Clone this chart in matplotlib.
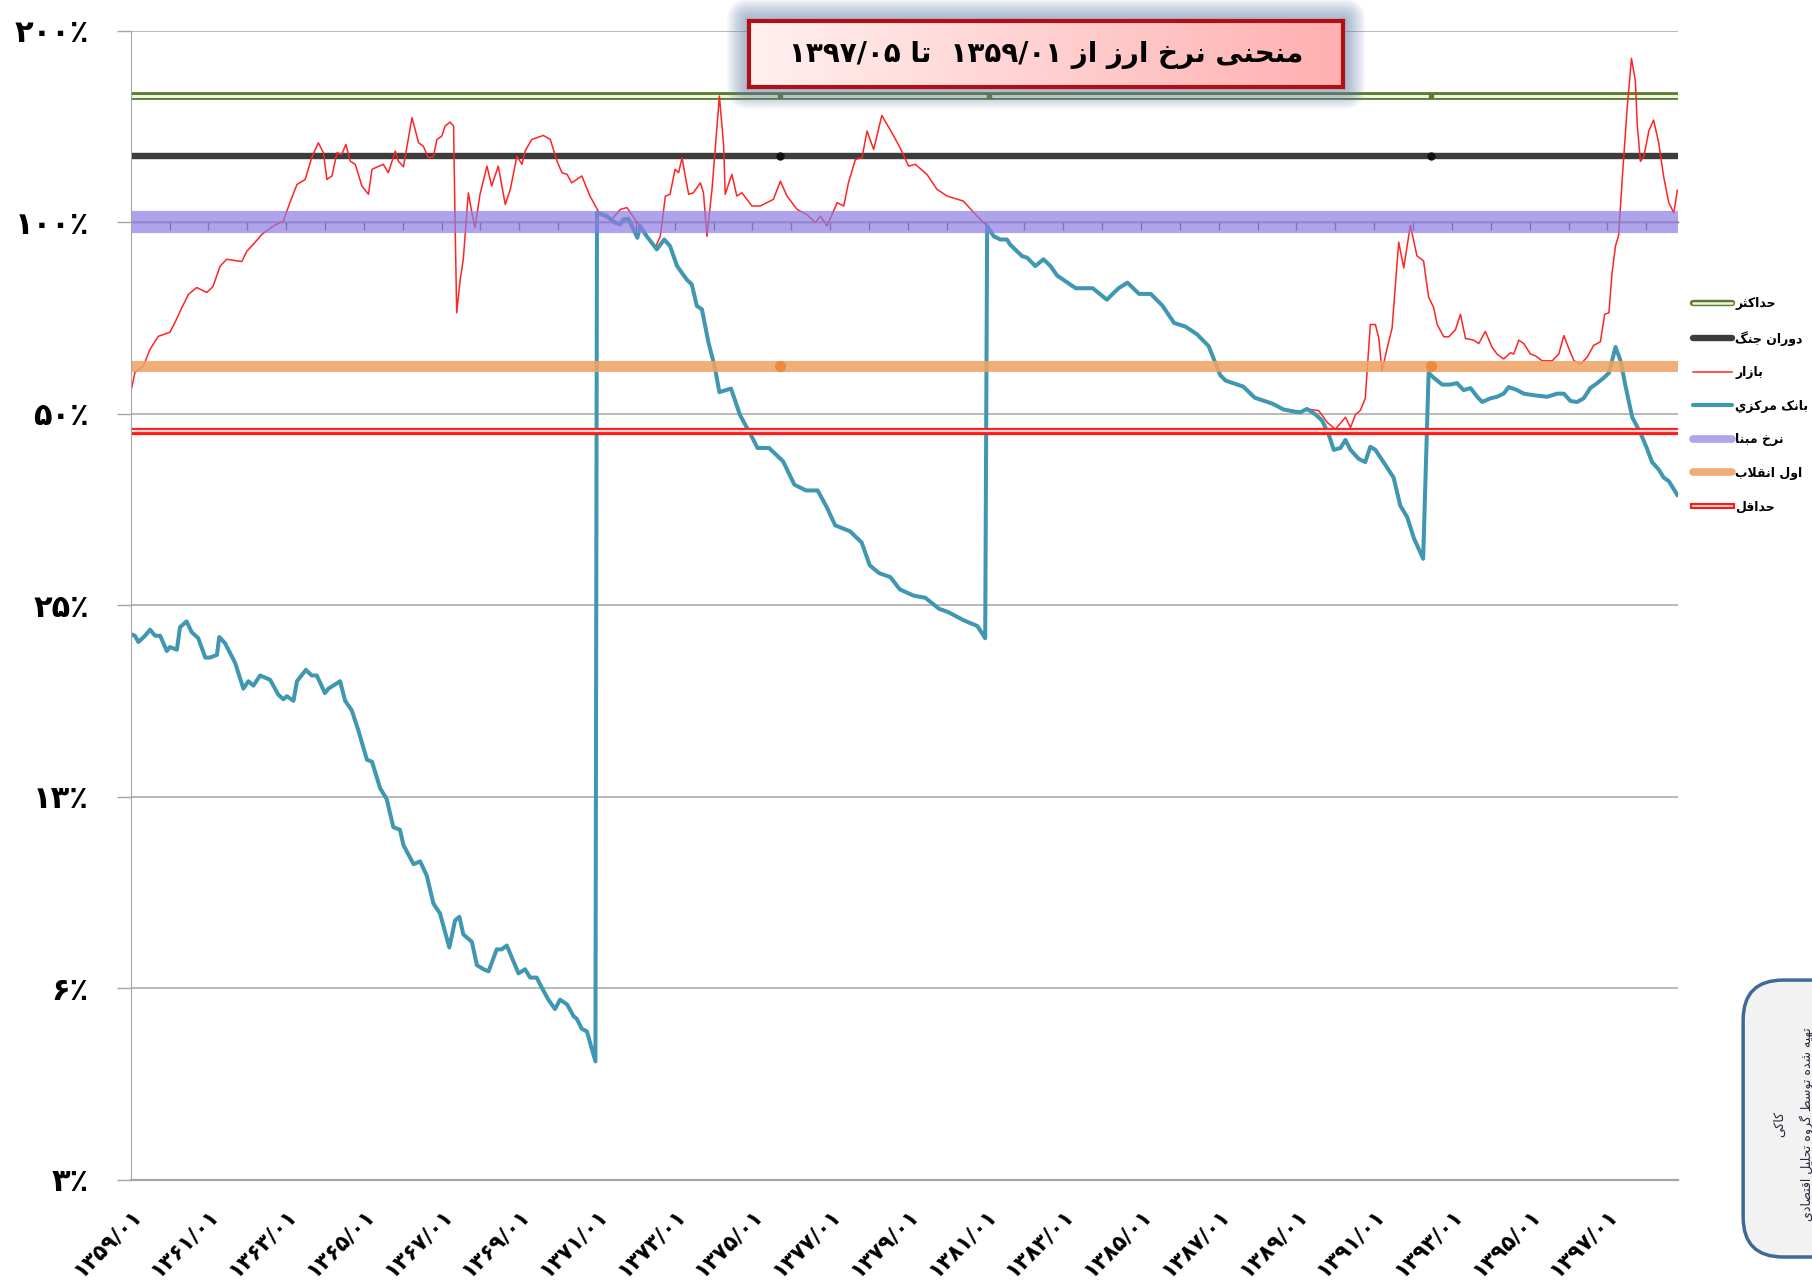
import numpy as np
import matplotlib
matplotlib.use("Agg")
import matplotlib.pyplot as plt
import matplotlib.patheffects as pe
from matplotlib.lines import Line2D
from matplotlib.patches import FancyBboxPatch
from matplotlib.colors import LinearSegmentedColormap
from matplotlib.ticker import NullLocator

plt.rcParams['font.family'] = ['DejaVu Sans']

# x values are years since 1359/01, y values are percent
market_early_t = [0.03, 0.11, 0.33, 0.50, 0.71, 1.01, 1.14, 1.32, 1.49, 1.70,
                  1.96, 2.12, 2.30, 2.47, 2.86, 2.99, 3.20, 3.37, 3.67, 3.93,
                  4.10, 4.28, 4.49, 4.66, 4.83, 4.96, 5.05, 5.18, 5.31, 5.43,
                  5.54, 5.65, 5.78, 5.95, 6.12, 6.21, 6.50, 6.63, 6.81, 6.89,
                  7.02, 7.24, 7.41, 7.53, 7.66, 7.79, 7.88, 8.01, 8.09, 8.22,
                  8.31, 8.35, 8.39, 8.48, 8.56, 8.69, 8.78, 8.86, 8.99, 9.17,
                  9.29, 9.46, 9.64, 9.77, 9.94, 10.07, 10.15, 10.32, 10.62, 10.80,
                  10.97, 11.10, 11.23, 11.35, 11.61, 11.82, 12.08, 12.38, 12.60, 12.77,
                  13.07, 13.28, 13.50, 13.63, 13.76, 13.88, 14.01, 14.10, 14.19, 14.27,
                  14.36, 14.48, 14.66, 14.74, 14.83, 14.96, 15.15, 15.26, 15.30, 15.47,
                  15.60, 15.73, 15.99, 16.20, 16.54, 16.72, 16.89, 17.15, 17.40, 17.62,
                  17.75, 17.92, 18.18, 18.35, 18.47, 18.65, 18.82, 18.95, 19.12, 19.33,
                  19.59, 19.80, 20.02, 20.19, 20.49, 20.75, 21.01, 21.43, 21.78]
market_early_pct = [55.0, 58.1, 59.5, 63.2, 66.2, 67.2, 69.6, 73.5, 77.1, 79.0,
                    77.6, 79.3, 85.3, 87.5, 86.8, 90.1, 93.0, 95.7, 98.7, 100.5,
                    107.5, 114.7, 116.8, 126.4, 133.4, 128.7, 116.8, 118.3, 128.7, 127.9,
                    132.6, 124.8, 123.4, 114.1, 110.7, 121.2, 123.4, 119.7, 129.4, 124.8,
                    122.3, 146.1, 133.4, 131.8, 126.4, 126.8, 135.0, 136.7, 141.7, 143.8,
                    141.7, 98.7, 72.1, 81.3, 87.5, 111.3, 103.6, 98.1, 110.7, 122.6,
                    114.1, 122.6, 106.7, 112.7, 127.1, 123.4, 129.4, 135.0, 137.0, 135.0,
                    124.8, 119.7, 119.0, 115.4, 118.3, 110.0, 102.9, 101.1, 104.8, 105.5,
                    99.3, 95.1, 91.3, 95.1, 110.0, 110.7, 121.2, 119.7, 126.4, 118.3,
                    110.7, 111.3, 115.4, 111.3, 95.1, 112.7, 158.0, 131.8, 110.7, 119.0,
                    110.0, 111.3, 106.1, 106.1, 108.7, 116.1, 110.0, 104.8, 102.9, 99.9,
                    102.3, 98.7, 107.4, 106.1, 115.4, 125.6, 126.4, 139.2, 130.2, 147.3,
                    138.3, 131.0, 122.6, 123.4, 119.0, 112.7, 110.0, 108.0, 102.3]

# stretch where market and central bank rates are the same
shared_t = [22.04, 22.21, 22.38, 22.55, 22.63, 22.81, 22.94, 23.07, 23.28, 23.49,
            23.67, 23.84, 24.32, 24.76, 25.12, 25.42, 25.65, 25.95, 26.25, 26.55,
            26.85, 27.14, 27.44, 27.74, 28.04, 28.18, 28.63, 28.93, 29.38, 29.67,
            29.97, 30.10, 30.27]
shared_pct = [98.7, 95.1, 94.0, 94.0, 92.3, 90.1, 88.5, 88.0, 85.4, 87.5,
              85.4, 82.5, 78.8, 78.8, 75.6, 78.8, 80.4, 77.2, 77.2, 74.0,
              69.5, 68.6, 66.7, 63.9, 57.5, 56.4, 55.2, 53.0, 51.9, 50.8,
              50.4, 50.3, 50.9]

market_late_t = [30.57, 30.79, 31.00, 31.26, 31.39, 31.52, 31.64, 31.77, 31.90, 32.03,
                 32.12, 32.20, 32.33, 32.46, 32.63, 32.76, 32.93, 33.10, 33.27, 33.40,
                 33.53, 33.62, 33.79, 33.92, 34.09, 34.22, 34.35, 34.56, 34.69, 34.86,
                 35.03, 35.16, 35.33, 35.51, 35.59, 35.72, 35.85, 36.02, 36.15, 36.32,
                 36.58, 36.75, 36.88, 37.01, 37.14, 37.31, 37.48, 37.65, 37.82, 37.93,
                 38.04, 38.12, 38.21, 38.29, 38.38, 38.51, 38.62, 38.72, 38.77, 38.85,
                 38.94, 39.07, 39.19, 39.32, 39.45, 39.58, 39.71, 39.80]
market_late_pct = [50.6, 48.5, 47.3, 49.4, 47.6, 49.9, 50.6, 52.9, 69.1, 69.1,
                   65.7, 58.4, 63.3, 68.2, 93.1, 84.8, 99.0, 88.6, 87.0, 76.3,
                   73.5, 69.1, 66.1, 66.1, 67.8, 71.7, 65.7, 65.3, 64.5, 67.4,
                   63.7, 62.1, 61.0, 62.4, 62.1, 65.3, 64.5, 62.1, 61.7, 60.6,
                   60.6, 62.1, 66.4, 63.3, 60.6, 59.9, 61.4, 64.1, 64.9, 71.7,
                   72.1, 83.2, 91.9, 95.4, 116.5, 151.3, 181.1, 167.0, 142.1, 124.7,
                   127.1, 139.5, 144.8, 133.5, 117.9, 107.4, 103.5, 112.3]

cbank_early_t = [0.03, 0.11, 0.20, 0.37, 0.50, 0.63, 0.76, 0.93, 1.01, 1.19,
                 1.27, 1.44, 1.57, 1.74, 1.92, 2.04, 2.22, 2.28, 2.43, 2.69,
                 2.90, 3.03, 3.16, 3.33, 3.59, 3.80, 3.93, 4.02, 4.19, 4.28,
                 4.51, 4.66, 4.79, 5.00, 5.09, 5.39, 5.52, 5.69, 5.86, 6.08,
                 6.21, 6.42, 6.59, 6.76, 6.93, 7.02, 7.28, 7.45, 7.62, 7.79,
                 7.96, 8.20, 8.35, 8.46, 8.56, 8.78, 8.91, 9.08, 9.21, 9.42,
                 9.55, 9.68, 9.98, 10.15, 10.28, 10.45, 10.56, 10.75, 10.92, 11.05,
                 11.23, 11.40, 11.48, 11.61, 11.74, 11.96]
cbank_early_pct = [22.5, 22.4, 21.9, 22.4, 22.9, 22.4, 22.4, 21.2, 21.5, 21.3,
                   23.1, 23.6, 22.7, 22.2, 20.7, 20.7, 20.9, 22.3, 21.8, 20.3,
                   18.5, 19.0, 18.7, 19.4, 19.1, 18.1, 17.8, 18.0, 17.7, 19.0,
                   19.8, 19.4, 19.4, 18.2, 18.5, 19.0, 17.7, 17.1, 15.9, 14.3,
                   14.2, 12.9, 12.4, 11.2, 11.1, 10.5, 9.8, 9.9, 9.4, 8.5,
                   8.2, 7.25, 8.0, 8.1, 7.6, 7.4, 6.8, 6.7, 6.65, 7.2,
                   7.2, 7.3, 6.6, 6.7, 6.5, 6.5, 6.3, 6.0, 5.8, 6.0,
                   5.9, 5.65, 5.6, 5.4, 5.35, 4.8]

cbank_mid_t = [12.00, 12.25, 12.47, 12.60, 12.68, 12.81, 12.94, 13.04, 13.11, 13.28,
               13.54, 13.73, 13.88, 14.06, 14.31, 14.44, 14.57, 14.70, 14.87, 15.03,
               15.15, 15.45, 15.68, 15.98, 16.13, 16.43, 16.79, 17.08, 17.38, 17.68,
               17.92, 18.13, 18.51, 18.81, 19.02, 19.26, 19.55, 19.79, 20.15, 20.45,
               20.80, 21.04, 21.43, 21.79, 21.99]
cbank_mid_pct = [103.6, 102.3, 99.9, 99.3, 101.1, 101.3, 97.5, 94.6, 98.7, 95.1,
                 90.7, 94.0, 91.8, 85.4, 81.3, 79.9, 73.9, 73.0, 64.7, 59.3,
                 54.1, 54.8, 49.8, 46.1, 44.2, 44.2, 42.1, 38.7, 37.9, 37.9,
                 35.6, 33.4, 32.7, 31.4, 28.9, 28.1, 27.7, 26.5, 25.9, 25.7,
                 24.7, 24.4, 23.7, 23.2, 22.2]

cbank_late_t = [30.49, 30.66, 30.83, 30.96, 31.13, 31.26, 31.39, 31.60, 31.77, 31.90,
                32.03, 32.24, 32.50, 32.67, 32.85, 33.02, 33.26, 33.40, 33.53, 33.75,
                33.96, 34.13, 34.30, 34.48, 34.65, 34.78, 34.99, 35.16, 35.33, 35.46,
                35.68, 35.85, 36.11, 36.45, 36.71, 36.88, 37.05, 37.22, 37.39, 37.56,
                37.74, 37.91, 38.04, 38.21, 38.34, 38.47, 38.64, 38.85, 39.02, 39.15,
                39.32, 39.45, 39.58, 39.80]
cbank_late_pct = [49.9, 48.8, 46.4, 43.9, 44.2, 45.5, 43.9, 42.5, 42.0, 44.4,
                  43.9, 42.0, 39.7, 35.9, 34.4, 31.9, 29.6, 58.0, 57.0, 55.6,
                  55.6, 55.9, 54.5, 54.9, 53.2, 52.2, 52.9, 53.2, 53.8, 55.1,
                  54.5, 53.8, 53.5, 53.2, 53.8, 53.8, 52.4, 52.2, 52.9, 54.9,
                  55.9, 57.0, 58.0, 63.7, 60.6, 55.2, 49.4, 46.7, 44.1, 42.0,
                  40.9, 39.7, 39.2, 37.3]

# reference levels (percent)
max_level = 158
war_level = 127
base_level = 100
revolution_level = 59.5
min_level = 47
marker_t = [16.72, 33.45]
green_marker_t = [16.72, 22.08, 33.45]

y_ticks = [3.125, 6.25, 12.5, 25, 50, 100, 200]
y_tick_labels = ['۳٪', '۶٪', '۱۳٪', '۲۵٪', '۵۰٪', '۱۰۰٪', '۲۰۰٪']
x_label_t = list(range(0, 39, 2))
x_tick_labels = ['۱۳۵۹/۰۱', '۱۳۶۱/۰۱', '۱۳۶۳/۰۱', '۱۳۶۵/۰۱', '۱۳۶۷/۰۱',
                 '۱۳۶۹/۰۱', '۱۳۷۱/۰۱', '۱۳۷۳/۰۱', '۱۳۷۵/۰۱', '۱۳۷۷/۰۱',
                 '۱۳۷۹/۰۱', '۱۳۸۱/۰۱', '۱۳۸۳/۰۱', '۱۳۸۵/۰۱', '۱۳۸۷/۰۱',
                 '۱۳۸۹/۰۱', '۱۳۹۱/۰۱', '۱۳۹۳/۰۱', '۱۳۹۵/۰۱', '۱۳۹۷/۰۱']
year_tick_t = list(range(1, 40))

title_text = 'منحنی نرخ ارز از ۱۳۵۹/۰۱  تا ۱۳۹۷/۰۵'
legend_labels = ['حداکثر', 'دوران جنگ', 'بازار', 'بانک مرکزي',
                 'نرخ مبنا', 'اول انقلاب', 'حداقل']
note_long = 'تهیه شده توسط گروه تحلیل اقتصادی'
note_short = 'کاکی'

# --- minimal Arabic/Persian shaping (matplotlib does no joining or bidi) ---
AR_FORMS = {
    'ا': ('\uFE8D', '\uFE8E', None, None),
    'ب': ('\uFE8F', '\uFE90', '\uFE91', '\uFE92'),
    'پ': ('\uFB56', '\uFB57', '\uFB58', '\uFB59'),
    'ت': ('\uFE95', '\uFE96', '\uFE97', '\uFE98'),
    'ث': ('\uFE99', '\uFE9A', '\uFE9B', '\uFE9C'),
    'ج': ('\uFE9D', '\uFE9E', '\uFE9F', '\uFEA0'),
    'چ': ('\uFB7A', '\uFB7B', '\uFB7C', '\uFB7D'),
    'ح': ('\uFEA1', '\uFEA2', '\uFEA3', '\uFEA4'),
    'خ': ('\uFEA5', '\uFEA6', '\uFEA7', '\uFEA8'),
    'د': ('\uFEA9', '\uFEAA', None, None),
    'ذ': ('\uFEAB', '\uFEAC', None, None),
    'ر': ('\uFEAD', '\uFEAE', None, None),
    'ز': ('\uFEAF', '\uFEB0', None, None),
    'ژ': ('\uFB8A', '\uFB8B', None, None),
    'س': ('\uFEB1', '\uFEB2', '\uFEB3', '\uFEB4'),
    'ش': ('\uFEB5', '\uFEB6', '\uFEB7', '\uFEB8'),
    'ص': ('\uFEB9', '\uFEBA', '\uFEBB', '\uFEBC'),
    'ط': ('\uFEC1', '\uFEC2', '\uFEC3', '\uFEC4'),
    'ع': ('\uFEC9', '\uFECA', '\uFECB', '\uFECC'),
    'ف': ('\uFED1', '\uFED2', '\uFED3', '\uFED4'),
    'ق': ('\uFED5', '\uFED6', '\uFED7', '\uFED8'),
    'ک': ('\uFB8E', '\uFB8F', '\uFB90', '\uFB91'),
    'گ': ('\uFB92', '\uFB93', '\uFB94', '\uFB95'),
    'ل': ('\uFEDD', '\uFEDE', '\uFEDF', '\uFEE0'),
    'م': ('\uFEE1', '\uFEE2', '\uFEE3', '\uFEE4'),
    'ن': ('\uFEE5', '\uFEE6', '\uFEE7', '\uFEE8'),
    'و': ('\uFEED', '\uFEEE', None, None),
    'ه': ('\uFEE9', '\uFEEA', '\uFEEB', '\uFEEC'),
    'ي': ('\uFEF1', '\uFEF2', '\uFEF3', '\uFEF4'),
    'ی': ('\uFBFC', '\uFBFD', '\uFBFE', '\uFBFF'),
}


def shape_word(word):
    out = []
    prev_joins = False
    i = 0
    while i < len(word):
        c = word[i]
        if c not in AR_FORMS:
            out.append(c)
            prev_joins = False
            i += 1
            continue
        if c == 'ل' and i + 1 < len(word) and word[i + 1] == 'ا':
            out.append('\uFEFC' if prev_joins else '\uFEFB')
            prev_joins = False
            i += 2
            continue
        nxt = word[i + 1] if i + 1 < len(word) else ''
        iso, fin, ini, med = AR_FORMS[c]
        next_ok = ini is not None and nxt in AR_FORMS
        if prev_joins and next_ok:
            out.append(med)
        elif prev_joins:
            out.append(fin)
        elif next_ok:
            out.append(ini)
        else:
            out.append(iso)
        prev_joins = next_ok
        i += 1
    return ''.join(reversed(out))


def rtl(text):
    words = text.split(' ')
    vis = [shape_word(w) if any(ch in AR_FORMS for ch in w) else w
           for w in reversed(words)]
    return ' '.join(vis)


# --- build series ---
market_t = market_early_t + shared_t + market_late_t
market_pct = market_early_pct + shared_pct + market_late_pct
cbank_t = cbank_early_t + cbank_mid_t + shared_t + cbank_late_t
cbank_pct = cbank_early_pct + cbank_mid_pct + shared_pct + cbank_late_pct

GREEN = '#5b7b2d'
GREEN_IN = '#eef3e4'
DARK = '#3c3c3c'
RED = '#ff2424'
TEAL = '#3f97b1'
PURPLE = '#8e7ce3'
ORANGE = '#eea465'
GRID = '#a6a6a6'

fig = plt.figure(figsize=(18.12, 12.82), dpi=100)
ax = fig.add_axes([0.0721, 0.0796, 0.8540, 0.8963])
ax.set_yscale('log', base=2)
ax.set_ylim(3.125, 200)
ax.set_xlim(0, 39.82)

ax.axhline(max_level, color=GREEN_IN, lw=2.2, zorder=1.0,
           path_effects=[pe.Stroke(linewidth=5.6, foreground=GREEN), pe.Normal()])
ax.plot(green_marker_t, [max_level] * len(green_marker_t), ls='none', marker='s',
        ms=3, color=GREEN, zorder=1.05)
ax.axhline(war_level, color=DARK, lw=4.6, zorder=1.1)
ax.plot(marker_t, [war_level] * len(marker_t), ls='none', marker='o', ms=5,
        color='#111111', zorder=1.15)
ax.plot(market_t, market_pct, color=RED, lw=1.1, zorder=2.0)
ax.plot(cbank_t, cbank_pct, color=TEAL, lw=2.9, zorder=2.1)
ax.axhline(base_level, color=PURPLE, lw=16, alpha=0.7, zorder=2.2)
ax.axhline(revolution_level, color=ORANGE, lw=8, alpha=0.88, zorder=2.3)
ax.plot(marker_t, [revolution_level] * len(marker_t), ls='none', marker='o', ms=7,
        color='#ee8a3c', zorder=2.35)
ax.axhline(min_level, color='#ffd8d8', lw=1.6, zorder=2.4,
           path_effects=[pe.Stroke(linewidth=5.2, foreground='#ff1a1a'), pe.Normal()])

# axes styling
ax.set_yticks(y_ticks, y_tick_labels, fontsize=22, fontweight='bold')
ax.yaxis.set_minor_locator(NullLocator())
ax.tick_params(axis='y', length=10, width=1, color=GRID, pad=20)
ax.grid(axis='y', color=GRID, lw=1.1)
ax.set_axisbelow(True)
ax.set_xticks(x_label_t, x_tick_labels, rotation=45, ha='right', va='top',
              rotation_mode='anchor', fontsize=15.5, fontweight='bold')
ax.tick_params(axis='x', length=0, pad=18)
for s in ['top', 'right']:
    ax.spines[s].set_visible(False)
ax.spines['left'].set_color(GRID)
ax.spines['bottom'].set_color(GRID)
ax.spines['bottom'].set_linewidth(1.6)

# category axis crossing at 100%
frac = np.log2(base_level / 3.125) / np.log2(200 / 3.125)
sec = ax.secondary_xaxis(frac)
sec.set_xticks(year_tick_t)
sec.tick_params(direction='in', length=6, width=1, color='#5a5a70',
                labeltop=False, labelbottom=False)
for s in sec.spines.values():
    s.set_color('#5a5a70')
    s.set_linewidth(1)

# title box with glow
x0, y0, w, h = 0.4134, 0.9321, 0.3278, 0.0515
for k in range(1, 11):
    p = k * 0.0012
    fig.add_artist(FancyBboxPatch((x0, y0), w, h,
                                  boxstyle=f'round,pad={p},rounding_size={p}',
                                  mutation_aspect=1812 / 1282,
                                  transform=fig.transFigure, facecolor='#5d78a6',
                                  edgecolor='none', alpha=0.07, zorder=3))
tax = fig.add_axes([x0, y0, w, h])
tax.set_zorder(5)
grad = np.linspace(0, 1, 256).reshape(1, -1)
pink = LinearSegmentedColormap.from_list('pink', ['#fff0f0', '#ffb0b0'])
tax.imshow(grad, aspect='auto', cmap=pink, extent=[0, 1, 0, 1])
tax.set_xticks([])
tax.set_yticks([])
for s in tax.spines.values():
    s.set_color('#b00f14')
    s.set_linewidth(3)
tax.text(0.5, 0.48, rtl(title_text), ha='center', va='center', fontsize=20,
         fontweight='bold', transform=tax.transAxes)

# legend
handles = [
    Line2D([], [], color=GREEN_IN, lw=1.8, solid_capstyle='round',
           path_effects=[pe.Stroke(linewidth=4.6, foreground=GREEN), pe.Normal()]),
    Line2D([], [], color=DARK, lw=4.6, solid_capstyle='round'),
    Line2D([], [], color=RED, lw=1.1),
    Line2D([], [], color=TEAL, lw=3, solid_capstyle='round'),
    Line2D([], [], color='#b1a4ea', lw=5.5, solid_capstyle='round'),
    Line2D([], [], color='#f0ac76', lw=5.5, solid_capstyle='round'),
    Line2D([], [], color='#ffd8d8', lw=1.3,
           path_effects=[pe.Stroke(linewidth=4.4, foreground='#ff1a1a'), pe.Normal()]),
]
fig.legend(handles, [rtl(l) for l in legend_labels], loc='upper left',
           bbox_to_anchor=(0.9345, 0.768), bbox_transform=fig.transFigure,
           frameon=False, prop={'weight': 'bold', 'size': 9},
           handlelength=3.1, handletextpad=0.25, labelspacing=1.64,
           borderpad=0, borderaxespad=0)

# note box at bottom right (cut by the figure edge)
fig.add_artist(FancyBboxPatch((0.962, 0.0195), 0.07, 0.216,
                              boxstyle='round,pad=0,rounding_size=0.022',
                              mutation_aspect=1812 / 1282,
                              transform=fig.transFigure, facecolor='#f2f2f2',
                              edgecolor='#3f6a96', lw=2.5, zorder=3))
fig.text(0.982, 0.123, rtl(note_short), rotation=90, ha='center', va='center',
         fontsize=9, color='#2a2a40', zorder=4)
fig.text(0.997, 0.123, rtl(note_long), rotation=90, ha='center', va='center',
         fontsize=9, color='#2a2a40', zorder=4)

fig.savefig('out.png', dpi=100)
